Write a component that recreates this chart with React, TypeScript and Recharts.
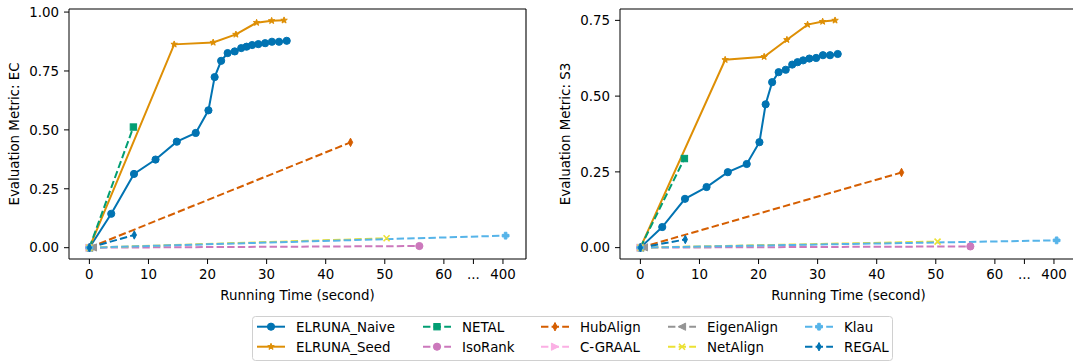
import React from "react";
import {
  LineChart,
  Line,
  XAxis,
  YAxis,
} from "recharts";

// running times (seconds) — the x axis is broken after 60, "400" sits at 70
const naiveTime = [0, 3.7, 7.55, 11.2, 14.8, 18.0, 20.15, 21.2, 22.3, 23.4, 24.6, 25.7, 26.6, 27.55, 28.6, 29.75, 30.9, 32.1, 33.4];
const naiveEC = [0, 0.144, 0.313, 0.374, 0.45, 0.487, 0.583, 0.724, 0.793, 0.826, 0.833, 0.847, 0.853, 0.86, 0.864, 0.868, 0.874, 0.874, 0.878];
const naiveS3 = [0, 0.068, 0.161, 0.2, 0.249, 0.276, 0.348, 0.473, 0.546, 0.579, 0.587, 0.604, 0.612, 0.618, 0.624, 0.626, 0.635, 0.635, 0.639];

const seedTime = [0, 14.35, 20.95, 24.8, 28.3, 30.85, 32.95];
const seedEC = [0, 0.863, 0.871, 0.905, 0.955, 0.963, 0.965];
const seedS3 = [0, 0.62, 0.63, 0.686, 0.736, 0.746, 0.75];

const netalTime = [0, 7.45];
const netalEC = [0, 0.512];
const netalS3 = [0, 0.294];

const isoRankTime = [0, 55.85];
const isoRankEC = [0, 0.007];
const isoRankS3 = [0, 0.004];

const hubAlignTime = [0, 44.2];
const hubAlignEC = [0, 0.447];
const hubAlignS3 = [0, 0.248];

const cgraalTime = [0, 0.6];
const cgraalEC = [0, 0.001];
const cgraalS3 = [0, 0.001];

const eigenAlignTime = [0, 0.6];
const eigenAlignEC = [0, 0.001];
const eigenAlignS3 = [0, 0.001];

const netAlignTime = [0, 50.3];
const netAlignEC = [0, 0.04];
const netAlignS3 = [0, 0.02];

const klauTime = [0, 404.5];
const klauEC = [0, 0.051];
const klauS3 = [0, 0.024];

const regalTime = [0, 7.6];
const regalEC = [0, 0.054];
const regalS3 = [0, 0.027];

const X_TICKS = [0, 10, 20, 30, 40, 50, 60, 65, 70];
const EC_TICKS = [0, 0.25, 0.5, 0.75, 1.0];
const S3_TICKS = [0, 0.25, 0.5, 0.75];

const X_DOMAIN: [number, number] = [-3.45, 73.9];
const EC_DOMAIN: [number, number] = [-0.048, 1.013];
const S3_DOMAIN: [number, number] = [-0.0375, 0.7875];

const FONT = "'DejaVu Sans', sans-serif";
const FS = 13.4;

// panel geometry
const W = 560;
const H = 305;
const M = { top: 9, right: 34, left: 9, bottom: 0 };
const Y_AXIS_W = 60;
const X_AXIS_H = 46;
const PANEL_LEFTS = [0, 551];

// broken axis: everything past 60 is squeezed next to the "400" tick
const axisX = (t: number) => (t <= 60 ? t : 70 + (t - 400) / 10);

const fmtX = (v: number) => (v === 65 ? "..." : v === 70 ? "400" : String(v));

type Shape = "o" | "*" | "s" | "d" | ">" | "<" | "x" | "P";

interface Series {
  name: string;
  color: string;
  dashed: boolean;
  shape: Shape;
  time: number[];
  ec: number[];
  s3: number[];
}

const SERIES: Series[] = [
  { name: "ELRUNA_Naive", color: "#0173b2", dashed: false, shape: "o", time: naiveTime, ec: naiveEC, s3: naiveS3 },
  { name: "ELRUNA_Seed", color: "#de8f05", dashed: false, shape: "*", time: seedTime, ec: seedEC, s3: seedS3 },
  { name: "NETAL", color: "#029e73", dashed: true, shape: "s", time: netalTime, ec: netalEC, s3: netalS3 },
  { name: "IsoRank", color: "#cc78bc", dashed: true, shape: "o", time: isoRankTime, ec: isoRankEC, s3: isoRankS3 },
  { name: "HubAlign", color: "#d55e00", dashed: true, shape: "d", time: hubAlignTime, ec: hubAlignEC, s3: hubAlignS3 },
  { name: "C-GRAAL", color: "#fbafe4", dashed: true, shape: ">", time: cgraalTime, ec: cgraalEC, s3: cgraalS3 },
  { name: "EigenAlign", color: "#949494", dashed: true, shape: "<", time: eigenAlignTime, ec: eigenAlignEC, s3: eigenAlignS3 },
  { name: "NetAlign", color: "#ece133", dashed: true, shape: "x", time: netAlignTime, ec: netAlignEC, s3: netAlignS3 },
  { name: "Klau", color: "#56b4e9", dashed: true, shape: "P", time: klauTime, ec: klauEC, s3: klauS3 },
  { name: "REGAL", color: "#0173b2", dashed: true, shape: "d", time: regalTime, ec: regalEC, s3: regalS3 },
];

function Marker({ shape, cx, cy, color }: { shape: Shape; cx: number; cy: number; color: string }) {
  if (cx == null || cy == null || isNaN(cx) || isNaN(cy)) return null;
  const r = 3.6;
  const common = { fill: color, stroke: color, strokeWidth: 1 };
  switch (shape) {
    case "o":
      return <circle cx={cx} cy={cy} r={r} {...common} />;
    case "s":
      return <rect x={cx - 3.2} y={cy - 3.2} width={6.4} height={6.4} {...common} />;
    case "d":
      return (
        <polygon
          points={`${cx},${cy - r - 0.6} ${cx + r * 0.6},${cy} ${cx},${cy + r + 0.6} ${cx - r * 0.6},${cy}`}
          {...common}
        />
      );
    case "*": {
      const pts: string[] = [];
      for (let i = 0; i < 10; i++) {
        const rad = i % 2 === 0 ? 3.4 : 1.4;
        const a = -Math.PI / 2 + (i * Math.PI) / 5;
        pts.push(`${cx + rad * Math.cos(a)},${cy + rad * Math.sin(a)}`);
      }
      return <polygon points={pts.join(" ")} {...common} />;
    }
    case ">":
      return <polygon points={`${cx + r},${cy} ${cx - r},${cy - r} ${cx - r},${cy + r}`} {...common} />;
    case "<":
      return <polygon points={`${cx - r},${cy} ${cx + r},${cy - r} ${cx + r},${cy + r}`} {...common} />;
    case "x":
      return (
        <g stroke={color} strokeWidth={1.6}>
          <line x1={cx - 3} y1={cy - 3} x2={cx + 3} y2={cy + 3} />
          <line x1={cx - 3} y1={cy + 3} x2={cx + 3} y2={cy - 3} />
        </g>
      );
    case "P": {
      const a = 1.3;
      const b = 3.4;
      const pts = [
        [-a, -b], [a, -b], [a, -a], [b, -a], [b, a], [a, a],
        [a, b], [-a, b], [-a, a], [-b, a], [-b, -a], [-a, -a],
      ]
        .map(([dx, dy]) => `${cx + dx},${cy + dy}`)
        .join(" ");
      return <polygon points={pts} {...common} />;
    }
  }
  return null;
}

function Panel({ metric, label, domain, ticks }: { metric: "ec" | "s3"; label: string; domain: [number, number]; ticks: number[] }) {
  return (
    <LineChart width={W} height={H} margin={M}>
      <XAxis
        type="number"
        dataKey="x"
        domain={X_DOMAIN}
        ticks={X_TICKS}
        tickFormatter={fmtX}
        allowDataOverflow
        interval={0}
        height={X_AXIS_H}
        tickSize={5}
        tickMargin={5}
        stroke="#000"
        tick={{ fill: "#000", fontSize: FS }}
        label={{ value: "Running Time (second)", position: "insideBottom", offset: 5, fill: "#000", fontSize: FS }}
      />
      <YAxis
        type="number"
        dataKey="y"
        domain={domain}
        ticks={ticks}
        tickFormatter={(v: number) => v.toFixed(2)}
        allowDataOverflow
        interval={0}
        width={Y_AXIS_W}
        tickSize={5}
        tickMargin={5}
        stroke="#000"
        tick={{ fill: "#000", fontSize: FS }}
        label={{
          value: label,
          angle: -90,
          position: "insideLeft",
          offset: 5,
          fill: "#000",
          fontSize: FS,
          style: { textAnchor: "middle" },
        }}
      />
      {SERIES.map((s) => {
        const vals = metric === "ec" ? s.ec : s.s3;
        const data = s.time.map((t, i) => ({ x: axisX(t), y: vals[i] }));
        return (
          <Line
            key={s.name}
            data={data}
            dataKey="y"
            name={s.name}
            stroke={s.color}
            strokeWidth={2}
            strokeDasharray={s.dashed ? "7.4 3.2" : undefined}
            isAnimationActive={false}
            activeDot={false}
            dot={(p: any) => (
              <Marker key={`${s.name}-${p.index}`} shape={s.shape} cx={p.cx} cy={p.cy} color={s.color} />
            )}
          />
        );
      })}
    </LineChart>
  );
}

// column-major like the original legend
const LEGEND_COLS = [257, 423, 541, 668, 805];
const LEGEND_ROWS = [326.7, 346.7];

function Overlay() {
  const top = M.top;
  const bottom = H - X_AXIS_H;
  return (
    <svg width={1073} height={364} style={{ position: "absolute", left: 0, top: 0, pointerEvents: "none" }}>
      {/* top and right spines of both axes boxes */}
      {PANEL_LEFTS.map((px) => {
        const l = px + M.left + Y_AXIS_W;
        const r = px + W - M.right;
        return (
          <g key={px} stroke="#000" strokeWidth={1.1} fill="none">
            <line x1={l} y1={top} x2={r} y2={top} />
            <line x1={r} y1={top} x2={r} y2={bottom} />
          </g>
        );
      })}
      <rect x={252.5} y={316.5} width={640} height={44} rx={3} fill="#fff" stroke="#d0d0d0" strokeWidth={1} />
      {SERIES.map((s, i) => {
        const x = LEGEND_COLS[Math.floor(i / 2)];
        const y = LEGEND_ROWS[i % 2];
        return (
          <g key={s.name}>
            <line
              x1={x}
              x2={x + 28}
              y1={y}
              y2={y}
              stroke={s.color}
              strokeWidth={2}
              strokeDasharray={s.dashed ? "7.4 3.2" : undefined}
            />
            <Marker shape={s.shape} cx={x + 14} cy={y} color={s.color} />
            <text x={x + 39} y={y} dy="0.36em" fontSize={FS} fill="#000" fontFamily={FONT}>
              {s.name}
            </text>
          </g>
        );
      })}
    </svg>
  );
}

export default function App() {
  return (
    <div
      style={{
        position: "absolute",
        left: 0,
        top: 0,
        width: 1073,
        height: 364,
        overflow: "hidden",
        background: "#fff",
        fontFamily: FONT,
      }}
    >
      <div style={{ position: "absolute", left: PANEL_LEFTS[0], top: 0 }}>
        <Panel metric="ec" label="Evaluation Metric: EC" domain={EC_DOMAIN} ticks={EC_TICKS} />
      </div>
      <div style={{ position: "absolute", left: PANEL_LEFTS[1], top: 0 }}>
        <Panel metric="s3" label="Evaluation Metric: S3" domain={S3_DOMAIN} ticks={S3_TICKS} />
      </div>
      <Overlay />
    </div>
  );
}
